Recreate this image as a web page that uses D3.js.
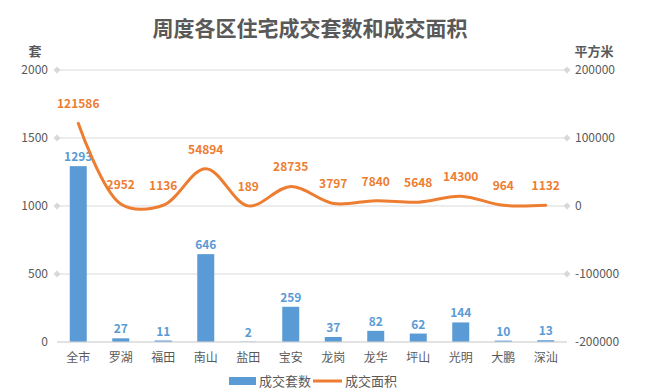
<!DOCTYPE html>
<html><head><meta charset="utf-8">
<script src="https://cdn.jsdelivr.net/npm/d3@7"></script>
<style>body{margin:0;background:#fff}svg{display:block}text{font-family:"Noto Sans CJK SC","Microsoft YaHei",sans-serif}</style>
</head><body><svg id="c" width="647" height="390"></svg>
<script>
const categories = ["全市","罗湖","福田","南山","盐田","宝安","龙岗","龙华","坪山","光明","大鹏","深汕"];
const units = [1293,27,11,646,2,259,37,82,62,144,10,13];
const areas = [121586,2952,1136,54894,189,28735,3797,7840,5648,14300,964,1132];
const leftTicks = [0,500,1000,1500,2000];
const rightTicks = [-200000,-100000,0,100000,200000];
const title = "周度各区住宅成交套数和成交面积";
const seriesNames = ["成交套数","成交面积"];
const axisTitles = ["套","平方米"];

const svg = d3.select("#c");
const L = 57, R = 567, T = 70, B = 342;
const grey = "#595959", gridC = "#d9d9d9", blue = "#5B9BD5", orange = "#ED7D31";

const x = d3.scaleBand().domain(categories).range([L, R]).paddingInner(0.6).paddingOuter(0.3);
const yL = d3.scaleLinear().domain([0, 2000]).range([B, T]);
const yR = d3.scaleLinear().domain([-200000, 200000]).range([B, T]);

svg.append("text").attr("x", 310).attr("y", 36).attr("text-anchor", "middle")
  .attr("font-size", 21).attr("font-weight", "bold").attr("fill", grey).text(title);

// gridlines
leftTicks.forEach(t => {
  svg.append("line").attr("x1", L).attr("x2", R).attr("y1", yL(t)).attr("y2", yL(t))
    .attr("stroke", gridC).attr("stroke-width", 1);
  if (t > 0) {
    [L, R].forEach(px => svg.append("rect").attr("x", -2.5).attr("y", -2.5).attr("width", 5).attr("height", 5)
      .attr("fill", gridC).attr("transform", `translate(${px},${yL(t)}) rotate(45)`));
  }
});

// axis tick labels
svg.append("g").selectAll("text").data(leftTicks).join("text")
  .attr("x", 48).attr("y", d => yL(d)).attr("dy", "0.35em").attr("text-anchor", "end")
  .attr("font-size", 12).attr("fill", grey).text(d => d);
svg.append("g").selectAll("text").data(rightTicks).join("text")
  .attr("x", 575).attr("y", d => yR(d)).attr("dy", "0.35em").attr("text-anchor", "start")
  .attr("font-size", 12).attr("fill", grey).text(d => d);

svg.append("text").attr("x", 35).attr("y", 56).attr("text-anchor", "middle")
  .attr("font-size", 13).attr("font-weight", "bold").attr("fill", grey).text(axisTitles[0]);
svg.append("text").attr("x", 594).attr("y", 56).attr("text-anchor", "middle")
  .attr("font-size", 13).attr("font-weight", "bold").attr("fill", grey).text(axisTitles[1]);

// bars
svg.append("g").selectAll("rect").data(units).join("rect")
  .attr("x", (d, i) => x(categories[i])).attr("width", x.bandwidth())
  .attr("y", d => yL(d)).attr("height", d => B - yL(d)).attr("fill", blue);
svg.append("g").selectAll("text").data(units).join("text")
  .attr("x", (d, i) => x(categories[i]) + x.bandwidth() / 2).attr("y", d => yL(d) - 5)
  .attr("text-anchor", "middle").attr("font-size", 12).attr("font-weight", "bold")
  .attr("fill", blue).text(d => d);

// category labels
svg.append("g").selectAll("text").data(categories).join("text")
  .attr("x", d => x(d) + x.bandwidth() / 2).attr("y", 362).attr("text-anchor", "middle")
  .attr("font-size", 12).attr("fill", grey).text(d => d);

// line
const line = d3.line().x((d, i) => x(categories[i]) + x.bandwidth() / 2).y(d => yR(d))
  .curve(d3.curveCatmullRom.alpha(0.5));
svg.append("path").datum(areas).attr("d", line).attr("fill", "none")
  .attr("stroke", orange).attr("stroke-width", 3).attr("stroke-linecap", "round");
svg.append("g").selectAll("text").data(areas).join("text")
  .attr("x", (d, i) => x(categories[i]) + x.bandwidth() / 2).attr("y", d => yR(d) - 15)
  .attr("text-anchor", "middle").attr("font-size", 12).attr("font-weight", "bold")
  .attr("fill", orange).text(d => d);

// axis line
svg.append("line").attr("x1", L).attr("x2", R).attr("y1", B).attr("y2", B)
  .attr("stroke", gridC).attr("stroke-width", 1);

// legend
svg.append("rect").attr("x", 229).attr("y", 377).attr("width", 27).attr("height", 8).attr("fill", blue);
svg.append("text").attr("x", 259).attr("y", 386).attr("font-size", 13).attr("fill", grey).text(seriesNames[0]);
svg.append("line").attr("x1", 313).attr("x2", 342).attr("y1", 381).attr("y2", 381)
  .attr("stroke", orange).attr("stroke-width", 3);
svg.append("text").attr("x", 345).attr("y", 386).attr("font-size", 13).attr("fill", grey).text(seriesNames[1]);
</script></body></html>
